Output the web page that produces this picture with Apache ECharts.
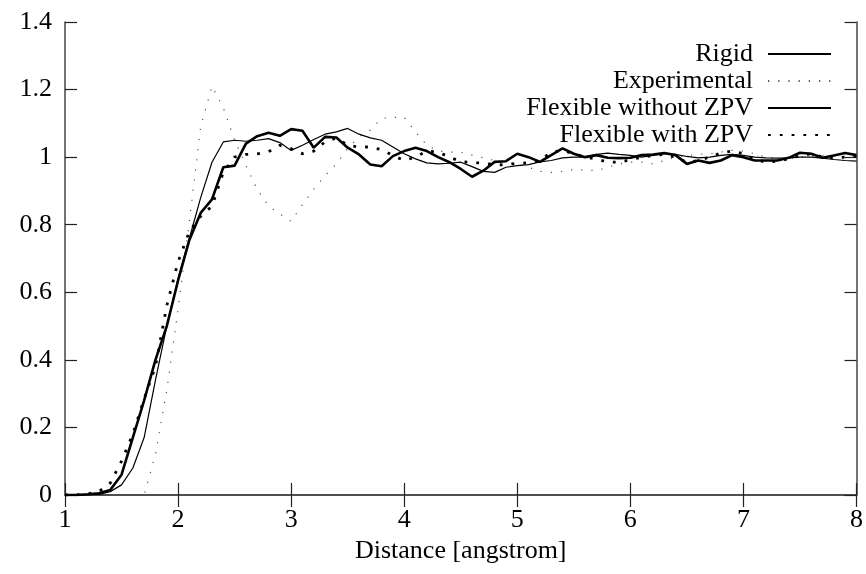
<!DOCTYPE html>
<html>
<head>
<meta charset="utf-8">
<script src="https://cdn.jsdelivr.net/npm/echarts@6/dist/echarts.min.js"></script>
<style>
  html, body { margin: 0; padding: 0; background: #fff; }
  #chart { width: 866px; height: 574px; }
</style>
</head>
<body>
<div id="chart"></div>
<script>
// sample positions (angstrom)
var xs = [1.0, 1.1, 1.2, 1.3, 1.4, 1.5, 1.6, 1.7, 1.8, 1.9,
          2.0, 2.1, 2.2, 2.3, 2.4, 2.5, 2.6, 2.7, 2.8, 2.9,
          3.0, 3.1, 3.2, 3.3, 3.4, 3.5, 3.6, 3.7, 3.8, 3.9,
          4.0, 4.1, 4.2, 4.3, 4.4, 4.5, 4.6, 4.7, 4.8, 4.9,
          5.0, 5.1, 5.2, 5.3, 5.4, 5.5, 5.6, 5.7, 5.8, 5.9,
          6.0, 6.1, 6.2, 6.3, 6.4, 6.5, 6.6, 6.7, 6.8, 6.9,
          7.0, 7.1, 7.2, 7.3, 7.4, 7.5, 7.6, 7.7, 7.8, 7.9, 8.0];

var rigid = [0, 0, 0, 0.002, 0.01, 0.03, 0.08, 0.17, 0.34, 0.50,
             0.64, 0.76, 0.88, 0.985, 1.045, 1.05, 1.047, 1.05, 1.055, 1.043,
             1.02, 1.035, 1.052, 1.068, 1.075, 1.085, 1.068, 1.057, 1.05, 1.03,
             1.01, 0.995, 0.983, 0.98, 0.982, 0.985, 0.972, 0.958, 0.955, 0.97,
             0.975, 0.978, 0.986, 0.99, 0.998, 1.0, 1.0, 1.008, 1.012, 1.008,
             1.005, 1.0, 1.005, 1.01, 1.008, 1.002, 0.998, 1.0, 1.005, 1.008,
             1.005, 1.0, 0.998, 0.997, 0.998, 1.0, 1.0, 0.997, 0.993, 0.99, 0.988];

var experimental = [0, 0, 0, 0, 0, 0, 0, 0, 0.12, 0.31,
                    0.55, 0.81, 1.09, 1.21, 1.146, 1.05, 0.975, 0.905, 0.855, 0.832,
                    0.81, 0.86, 0.905, 0.945, 0.98, 1.025, 1.06, 1.08, 1.115, 1.118,
                    1.118, 1.075, 1.035, 1.018, 1.015, 1.015, 1.006, 0.998, 0.99, 0.985,
                    0.98, 0.97, 0.958, 0.955, 0.958, 0.963, 0.962, 0.96, 0.97, 0.98,
                    0.985, 0.985, 0.98, 0.99, 1.0, 1.005, 1.008, 1.01, 1.015, 1.02,
                    1.018, 1.01, 1.0, 0.995, 0.995, 1.0, 1.003, 1.005, 1.003, 1.0, 1.0];

var flexNoZpv = [0, 0, 0.002, 0.005, 0.015, 0.06, 0.17, 0.28, 0.40, 0.50,
                 0.635, 0.755, 0.835, 0.875, 0.97, 0.975, 1.04, 1.062, 1.072, 1.063,
                 1.083, 1.078, 1.028, 1.06, 1.058, 1.028, 1.008, 0.978, 0.973, 1.003,
                 1.018, 1.028, 1.018, 1.0, 0.985, 0.965, 0.942, 0.96, 0.986, 0.988,
                 1.01, 1.0, 0.986, 1.006, 1.026, 1.01, 1.0, 1.006, 0.998, 0.997,
                 0.998, 1.006, 1.008, 1.012, 1.006, 0.98, 0.99, 0.983, 0.99, 1.006,
                 1.0, 0.99, 0.99, 0.99, 0.998, 1.013, 1.01, 0.998, 1.005, 1.012, 1.006];

var flexZpv = [0, 0, 0.003, 0.01, 0.035, 0.1, 0.18, 0.285, 0.38, 0.56,
               0.69, 0.78, 0.825, 0.855, 0.955, 1.0, 1.008, 1.01, 1.016, 1.035,
               1.025, 1.01, 1.018, 1.045, 1.057, 1.035, 1.03, 1.03, 1.022, 1.005,
               0.99, 1.0, 1.018, 1.015, 1.0, 0.987, 0.984, 0.982, 0.978, 0.977,
               0.982, 0.983, 0.99, 1.015, 1.02, 1.01, 1.0, 0.995, 0.985, 0.985,
               0.992, 1.0, 1.005, 1.008, 1.0, 0.985, 0.99, 1.0, 1.012, 1.018,
               1.01, 0.993, 0.985, 0.988, 0.995, 1.005, 1.01, 1.0, 0.998, 1.0, 1.002];

var seriesNames = ['Rigid', 'Experimental', 'Flexible without ZPV', 'Flexible with ZPV'];

function pairs(ys) {
  return xs.map(function (x, i) { return [x, ys[i]]; });
}

var FONT = 'Liberation Serif';
var chart = echarts.init(document.getElementById('chart'));

var axisCommon = {
  axisLine: { show: true, lineStyle: { color: '#444', width: 1.5 } },
  axisTick: { show: true, inside: true, length: 12, lineStyle: { color: '#222', width: 1.2 } },
  splitLine: { show: false }
};

var option = {
  backgroundColor: '#fff',
  animation: false,
  grid: { left: 65, right: 9, top: 22, bottom: 79, containLabel: false },
  legend: {
    data: seriesNames,
    orient: 'vertical',
    right: 29,
    top: 36,
    align: 'right',
    itemWidth: 63,
    itemHeight: 14,
    itemGap: 1,
    itemStyle: { opacity: 0 },
    textStyle: { fontFamily: FONT, fontSize: 26, lineHeight: 26, color: '#000', padding: [0, 10, 0, 0] }
  },
  xAxis: [
    Object.assign({
      type: 'value', min: 1, max: 8, interval: 1, position: 'bottom',
      name: 'Distance [angstrom]', nameLocation: 'middle', nameGap: 40,
      nameTextStyle: { fontFamily: FONT, fontSize: 26, color: '#000' },
      axisLabel: { fontFamily: FONT, fontSize: 26, color: '#000', margin: 12 }
    }, axisCommon),
    Object.assign({
      type: 'value', min: 1, max: 8, interval: 1, position: 'top',
      axisLabel: { show: false }
    }, axisCommon)
  ],
  yAxis: [
    Object.assign({
      type: 'value', min: 0, max: 1.4, interval: 0.2, position: 'left',
      axisLabel: { fontFamily: FONT, fontSize: 26, color: '#000', margin: 13 }
    }, axisCommon),
    Object.assign({
      type: 'value', min: 0, max: 1.4, interval: 0.2, position: 'right',
      axisLabel: { show: false }
    }, axisCommon)
  ],
  series: [
    {
      name: seriesNames[0], type: 'line', data: pairs(rigid), symbol: 'none',
      lineStyle: { color: '#000', width: 1.2 }, itemStyle: { color: '#000' }, z: 3
    },
    {
      name: seriesNames[1], type: 'line', data: pairs(experimental), symbol: 'none',
      lineStyle: { color: '#555', width: 1.2, type: [1.2, 9] }, itemStyle: { color: '#555' }, z: 2
    },
    {
      name: seriesNames[2], type: 'line', data: pairs(flexNoZpv), symbol: 'none',
      lineStyle: { color: '#000', width: 2.6 }, itemStyle: { color: '#000' }, z: 4
    },
    {
      name: seriesNames[3], type: 'line', data: pairs(flexZpv), symbol: 'none',
      lineStyle: { color: '#000', width: 2.8, type: [2.8, 9] }, itemStyle: { color: '#000' }, z: 5
    }
  ]
};

chart.setOption(option);
</script>
</body>
</html>
